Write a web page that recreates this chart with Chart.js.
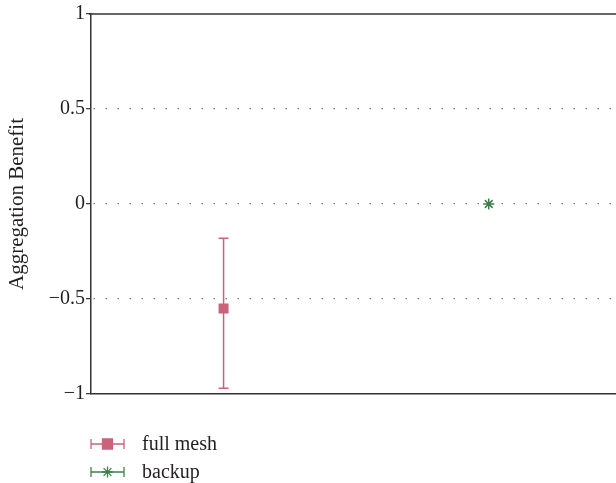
<!DOCTYPE html>
<html>
<head>
<meta charset="utf-8">
<script src="https://cdn.jsdelivr.net/npm/chart.js@4/dist/chart.umd.min.js"></script>
<style>
  html, body { margin: 0; padding: 0; background: #fff; }
  canvas { display: block; }
</style>
</head>
<body>
<canvas id="benefitChart" width="616" height="483"></canvas>
<script>
// series and their values
const seriesNames = ['full mesh', 'backup'];
const seriesX = [1, 2];
const seriesMean = [-0.55, 0];
const seriesLow = [-0.97, 0];
const seriesHigh = [-0.18, 0];
const seriesColors = ['#c8637a', '#3f7f4c'];
const seriesMarkers = ['rect', 'star'];

// y axis ticks
const yTicks = [-1, -0.5, 0, 0.5, 1];

const FONT = '"Liberation Serif", "DejaVu Serif", serif';
const INK = '#231f20';

function fmtTick(v) {
    if (v === 0) return '0';
    const s = String(Math.abs(v));
    return v < 0 ? '\u2212' + s : s;
}

// error bars under the markers
const errorBars = {
    id: 'errorBars',
    beforeDatasetsDraw(chart) {
        const { ctx, scales: { x, y } } = chart;
        ctx.save();
        ctx.lineWidth = 1.5;
        seriesX.forEach((xv, i) => {
            if (seriesHigh[i] <= seriesLow[i]) return;
            const px = x.getPixelForValue(xv);
            const top = y.getPixelForValue(seriesHigh[i]);
            const bot = y.getPixelForValue(seriesLow[i]);
            ctx.strokeStyle = seriesColors[i];
            ctx.beginPath();
            ctx.moveTo(px, top); ctx.lineTo(px, bot);
            ctx.moveTo(px - 5, top); ctx.lineTo(px + 5, top);
            ctx.moveTo(px - 5, bot); ctx.lineTo(px + 5, bot);
            ctx.stroke();
        });
        ctx.restore();
    }
};

// top frame line
const topFrame = {
    id: 'topFrame',
    afterDraw(chart) {
        const { ctx, chartArea } = chart;
        ctx.save();
        ctx.strokeStyle = '#333';
        ctx.lineWidth = 1.5;
        ctx.beginPath();
        ctx.moveTo(chartArea.left - 2, chartArea.top);
        ctx.lineTo(chart.width, chartArea.top);
        ctx.stroke();
        ctx.restore();
    }
};

// legend with error-bar style keys under the plot
const errLegend = {
    id: 'errLegend',
    afterDraw(chart) {
        const { ctx, chartArea } = chart;
        const x0 = chartArea.left;
        const x1 = x0 + 33;
        const xm = (x0 + x1) / 2;
        ctx.save();
        seriesNames.forEach((name, i) => {
            const yy = chartArea.bottom + 50 + i * 28;
            ctx.strokeStyle = seriesColors[i];
            ctx.fillStyle = seriesColors[i];
            ctx.lineWidth = 1.3;
            ctx.beginPath();
            ctx.moveTo(x0, yy); ctx.lineTo(x1, yy);
            ctx.moveTo(x0, yy - 5); ctx.lineTo(x0, yy + 5);
            ctx.moveTo(x1, yy - 5); ctx.lineTo(x1, yy + 5);
            ctx.stroke();
            Chart.helpers.drawPoint(ctx, {
                pointStyle: seriesMarkers[i],
                radius: seriesMarkers[i] === 'rect' ? 7.07 : 5.5,
                borderWidth: 1.5
            }, xm, yy);
            ctx.fillStyle = INK;
            ctx.font = '20px ' + FONT;
            ctx.textBaseline = 'middle';
            ctx.fillText(name, x0 + 51, yy + 1);
        });
        ctx.restore();
    }
};

const datasets = seriesNames.map((name, i) => ({
    label: name,
    data: [{ x: seriesX[i], y: seriesMean[i] }],
    pointStyle: seriesMarkers[i],
    pointRadius: seriesMarkers[i] === 'rect' ? 7.07 : 5.5,
    pointBackgroundColor: seriesColors[i],
    pointBorderColor: seriesColors[i],
    pointBorderWidth: seriesMarkers[i] === 'rect' ? 0 : 1.5,
    showLine: false
}));

new Chart(document.getElementById('benefitChart'), {
    type: 'scatter',
    data: { datasets },
    plugins: [errorBars, topFrame, errLegend],
    options: {
        responsive: false,
        devicePixelRatio: 1,
        animation: false,
        clip: false,
        layout: { autoPadding: false, padding: { top: 14, right: 0, bottom: 89, left: 0 } },
        plugins: { legend: { display: false }, tooltip: { enabled: false } },
        scales: {
            x: {
                type: 'linear',
                min: 0.5,
                max: 2.48,
                ticks: { display: false },
                grid: { display: false, drawTicks: false },
                border: { display: true, color: '#333', width: 1.5 },
                afterFit(scale) {
                    scale.height = 0;
                    scale.paddingLeft = 0;
                    scale.paddingRight = 0;
                }
            },
            y: {
                min: -1,
                max: 1,
                afterBuildTicks(scale) { scale.ticks = yTicks.map(v => ({ value: v })); },
                ticks: {
                    color: INK,
                    font: { family: FONT, size: 20 },
                    padding: 1,
                    callback: v => fmtTick(v)
                },
                grid: {
                    color: ctx => Math.abs(ctx.tick.value) === 1 ? 'rgba(0,0,0,0)' : '#777',
                    lineWidth: 1.3,
                    tickColor: '#333',
                    tickLength: 5,
                    tickWidth: 1.2,
                    tickBorderDash: []
                },
                border: { display: true, color: '#333', width: 1.5, dash: [1.5, 10.5], dashOffset: 10 },
                title: {
                    display: true,
                    text: 'Aggregation Benefit',
                    color: INK,
                    font: { family: FONT, size: 21 },
                    padding: { top: 5, bottom: 0 }
                },
                afterFit(scale) { scale.width = 91; }
            }
        }
    }
});
</script>
</body>
</html>
